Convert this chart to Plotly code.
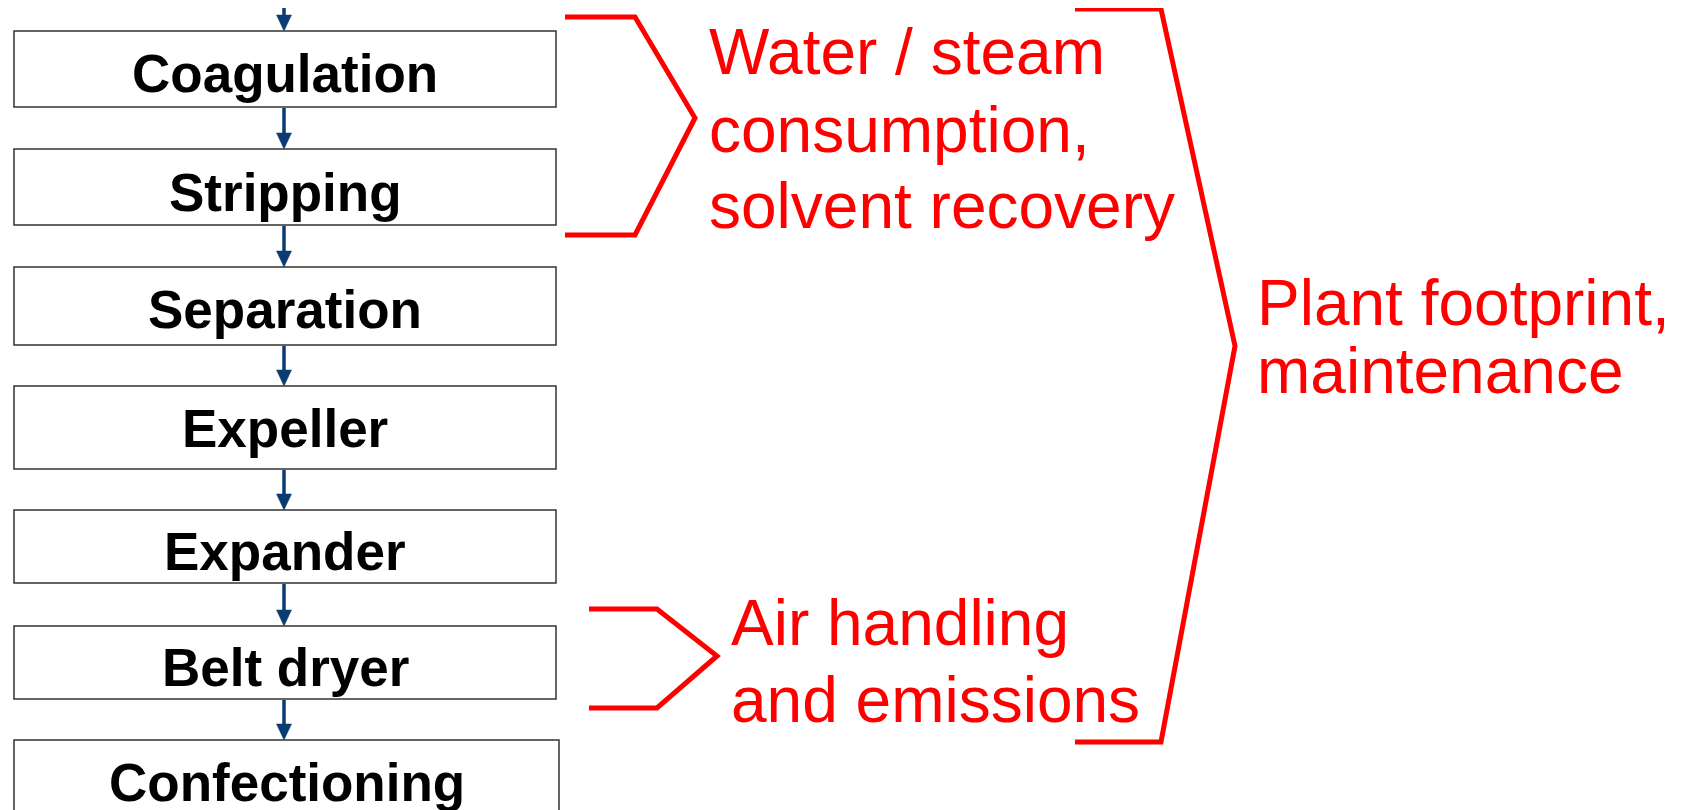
import plotly.graph_objects as go

# ---- data ----
steps = ["Coagulation", "Stripping", "Separation", "Expeller",
         "Expander", "Belt dryer", "Confectioning"]
bracket_labels = [
    ["Water / steam", "consumption,", "solvent recovery"],
    ["Air handling", "and emissions"],
    ["Plant footprint,", "maintenance"],
]

# ---- layout geometry (pixels, page coordinates) ----
W, H = 1681, 810
OFF = 8  # browser body margin: shift axis ranges so data coords equal page pixels
box_left = [14, 14, 14, 14, 14, 14, 14]
box_right = [556, 556, 556, 556, 556, 556, 559]
box_top = [31, 149, 267, 386, 510, 626, 740]
box_bot = [107, 225, 345, 469, 583, 699, 830]
label_y = [73, 192, 309, 428, 551, 667, 782]
arrow_x = 284

# brackets: (x_start, x_corner, x_apex, y_top, y_apex, y_bot)
brackets = [
    (565, 635, 695, 17, 118, 235),
    (589, 657, 717, 609, 656, 708),
    (1075, 1161, 1235, 9, 346, 742),
]
# text lines: left x, baselines
text_left = [707, 729, 1255]
text_baselines = [[74, 152, 228], [645, 722], [325, 393]]

RED = "#FF0000"
NAVY = "#0B3B73"
FS_RED = 64
FS_BOX = 53

fig = go.Figure()
shapes = []
annotations = []

# boxes and labels
for i, name in enumerate(steps):
    shapes.append(dict(type="rect", xref="x", yref="y",
                       x0=box_left[i], x1=box_right[i], y0=box_top[i], y1=box_bot[i],
                       line=dict(color="#333333", width=1.5), fillcolor="white", layer="below"))
    annotations.append(dict(x=(box_left[i] + box_right[i]) / 2, y=label_y[i], xref="x", yref="y",
                            text=name, showarrow=False, xanchor="center", yanchor="middle",
                            font=dict(family="Liberation Sans, Arial, sans-serif", size=FS_BOX,
                                      color="black", weight=700)))

# arrows: from previous box bottom (or top of image) to next box top
starts = [0] + [b + 1 for b in box_bot[:-1]]
ends = box_top
head_h, head_w = 16, 7.5
for s, e in zip(starts, ends):
    shapes.append(dict(type="line", xref="x", yref="y", x0=arrow_x, x1=arrow_x,
                       y0=s, y1=e - head_h + 2, line=dict(color=NAVY, width=3.5)))
    shapes.append(dict(type="path", xref="x", yref="y",
                       path=f"M {arrow_x - head_w},{e - head_h} L {arrow_x + head_w},{e - head_h} L {arrow_x},{e} Z",
                       fillcolor=NAVY, line=dict(color=NAVY, width=0.5)))

# red brackets
for (xs, xc, xa, yt, ya, yb) in brackets:
    shapes.append(dict(type="path", xref="x", yref="y",
                       path=f"M {xs},{yt} L {xc},{yt} L {xa},{ya} L {xc},{yb} L {xs},{yb}",
                       line=dict(color=RED, width=5)))

# red text lines
for lines, xl, bls in zip(bracket_labels, text_left, text_baselines):
    for t, bl in zip(lines, bls):
        annotations.append(dict(x=xl, y=bl - 0.3465 * FS_RED, xref="x", yref="y",
                                text=t, showarrow=False, xanchor="left", yanchor="middle",
                                font=dict(family="Liberation Sans, Arial, sans-serif",
                                          size=FS_RED, color=RED)))

fig.update_layout(
    width=W, height=H,
    margin=dict(l=0, r=0, t=0, b=0),
    paper_bgcolor="white", plot_bgcolor="white",
    xaxis=dict(range=[OFF, W + OFF], visible=False, fixedrange=True),
    yaxis=dict(range=[H + OFF, OFF], visible=False, fixedrange=True),
    shapes=shapes, annotations=annotations, showlegend=False,
)
fig.write_html("out.html", config={"displayModeBar": False})
